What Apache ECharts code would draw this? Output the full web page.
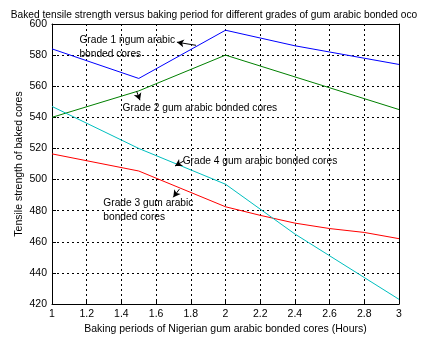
<!DOCTYPE html>
<html><head><meta charset="utf-8">
<script src="https://cdn.jsdelivr.net/npm/echarts@6/dist/echarts.min.js"></script>
<style>html,body{margin:0;padding:0;background:#fff}#c{width:428px;height:340px}</style>
</head><body><div id="c"></div>
<script>
// Data
const xGrade1 = [1, 1.5, 2, 2.2, 2.4, 2.6, 2.8, 3];
const grade1  = [584, 565, 596, 591, 586, 582, 578, 574];
const xGrade2 = [1, 1.5, 2, 2.6, 3];
const grade2  = [540, 557, 580, 559, 545];
const xGrade3 = [1, 1.5, 2, 2.2, 2.4, 2.6, 2.8, 3];
const grade3  = [516.5, 505.5, 482.5, 477, 472, 468.5, 466, 462];
const xGrade4 = [1, 1.5, 2, 2.2, 2.4, 2.6, 2.8, 3];
const grade4  = [547, 520, 497, 481, 465, 451, 437, 423];

const titleText = 'Baked tensile strength versus baking period for different grades of gum arabic bonded oco';
const xName = 'Baking periods of Nigerian gum arabic bonded cores (Hours)';
const yName = 'Tensile strength of baked cores';

// annotation texts: [x, y (data, top-left), text]
const noteText = [
  [1.158, 594.3, 'Grade 1 ngum arabic\nbonded cores'],
  [1.407, 550.5, 'Grade 2 gum arabic bonded cores'],
  [1.753, 516.6, 'Grade 4 gum arabic bonded cores'],
  [1.296, 489.5, 'Grade 3 gum arabic\nbonded cores']
];
// arrows: [tailX, tailY, headX, headY] in data units
const noteArrows = [
  [1.830, 586.3, 1.720, 588.3],
  [1.488, 556.7, 1.507, 551.0],
  [1.760, 512.0, 1.709, 508.7],
  [1.734, 493.8, 1.699, 488.6]
];

const FONT = '"Liberation Sans", Arial, sans-serif';
const FS = 10.5;
const zip = (xs, ys) => xs.map((x, i) => [x, ys[i]]);

const chart = echarts.init(document.getElementById('c'), null, {renderer: 'canvas'});
const gridLine = {show: true, lineStyle: {color: '#000', type: [2, 3], width: 1}};
const axisLine = {show: true, lineStyle: {color: '#000', width: 1}};

const option = {
  backgroundColor: '#fff',
  animation: false,
  textStyle: {fontFamily: FONT},
  title: {
    text: titleText, left: 'center', top: 5,
    textStyle: {fontSize: 10.2, fontWeight: 'normal', color: '#000', fontFamily: FONT}
  },
  grid: {left: 52, top: 24, width: 347, height: 284, containLabel: false},
  xAxis: [{
    type: 'value', min: 1, max: 3, interval: 0.2,
    name: xName, nameLocation: 'middle', nameGap: 20, nameMoveOverlap: false,
    nameTextStyle: {fontSize: FS, color: '#000', fontFamily: FONT},
    axisLine: axisLine,
    axisTick: {show: true, inside: true, length: 4, lineStyle: {color: '#000'}},
    axisLabel: {fontSize: FS, color: '#000', margin: 5, fontFamily: FONT,
      formatter: v => String(+v.toFixed(1))},
    splitLine: gridLine
  }, {
    type: 'value', min: 1, max: 3, interval: 0.2, position: 'top',
    axisLine: axisLine, axisTick: {show: false}, axisLabel: {show: false}, splitLine: {show: false}
  }],
  yAxis: [{
    type: 'value', min: 420, max: 600, interval: 20,
    name: yName, nameLocation: 'middle', nameGap: 27, nameMoveOverlap: false,
    nameTextStyle: {fontSize: FS, color: '#000', fontFamily: FONT},
    axisLine: axisLine,
    axisTick: {show: true, inside: true, length: 4, lineStyle: {color: '#000'}},
    axisLabel: {fontSize: FS, color: '#000', margin: 5, fontFamily: FONT},
    splitLine: gridLine
  }, {
    type: 'value', min: 420, max: 600, interval: 20, position: 'right',
    axisLine: axisLine, axisTick: {show: false}, axisLabel: {show: false}, splitLine: {show: false}
  }],
  series: [
    {type: 'line', data: zip(xGrade1, grade1), symbol: 'none', lineStyle: {color: '#0000ff', width: 1}, z: 3},
    {type: 'line', data: zip(xGrade2, grade2), symbol: 'none', lineStyle: {color: '#008000', width: 1}, z: 3},
    {type: 'line', data: zip(xGrade3, grade3), symbol: 'none', lineStyle: {color: '#ff0000', width: 1}, z: 3},
    {type: 'line', data: zip(xGrade4, grade4), symbol: 'none', lineStyle: {color: '#00bfbf', width: 1}, z: 3},
    {type: 'line', data: [], symbol: 'none', z: 5,
      markLine: {
        silent: true, symbol: ['none', 'arrow'], symbolSize: [6, 7], animation: false,
        label: {show: false},
        lineStyle: {color: '#000', type: 'solid', width: 1},
        data: noteArrows.map(a => [{coord: [a[0], a[1]]}, {coord: [a[2], a[3]]}])
      }
    }
  ]
};
chart.setOption(option);

const g = noteText.map(n => {
  const p = chart.convertToPixel({gridIndex: 0}, [n[0], n[1]]);
  return {
    type: 'text', left: p[0], top: p[1], z: 10,
    style: {text: n[2], fill: '#000', font: '10.2px ' + FONT, lineHeight: 14}
  };
});
chart.setOption({graphic: g});
</script>
</body></html>
